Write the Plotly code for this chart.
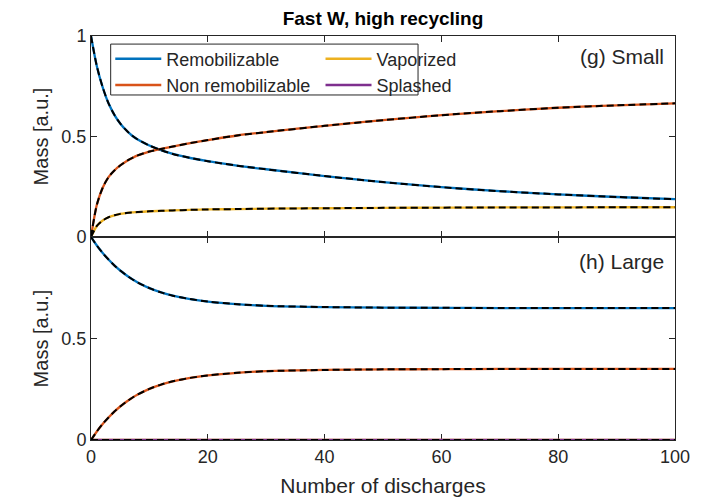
import plotly.graph_objects as go

# ---- data ----
discharges = [0, 1, 2, 3, 4, 5, 6, 7, 8, 10, 12, 14, 17, 20, 25, 30, 40, 50, 60, 70, 80, 90, 100]

small_remob = [1.0, 0.85, 0.745, 0.665, 0.608, 0.565, 0.532, 0.505, 0.485, 0.455, 0.432, 0.413,
               0.393, 0.377, 0.355, 0.337, 0.303, 0.273, 0.248, 0.228, 0.212, 0.199, 0.188]
small_nonremob = [0.0, 0.16, 0.245, 0.298, 0.331, 0.356, 0.376, 0.392, 0.406, 0.425, 0.438, 0.450,
                  0.467, 0.482, 0.505, 0.522, 0.553, 0.581, 0.606, 0.626, 0.643, 0.655, 0.665]
small_vapor = [0.0, 0.055, 0.082, 0.098, 0.108, 0.115, 0.119, 0.122, 0.124, 0.128, 0.130, 0.132,
               0.135, 0.137, 0.139, 0.141, 0.143, 0.145, 0.146, 0.147, 0.147, 0.148, 0.148]

large_remob = [1.0, 0.958, 0.921, 0.889, 0.860, 0.835, 0.813, 0.793, 0.776, 0.748, 0.727, 0.711,
               0.694, 0.682, 0.669, 0.661, 0.655, 0.652, 0.651, 0.650, 0.650, 0.650, 0.650]
large_nonremob = [0.0, 0.042, 0.079, 0.111, 0.140, 0.165, 0.187, 0.207, 0.224, 0.252, 0.273, 0.289,
                  0.306, 0.318, 0.331, 0.339, 0.345, 0.348, 0.349, 0.350, 0.350, 0.350, 0.350]
large_vapor = [0.0] * 23
large_splash = [0.0] * 23

names = ["Remobilizable", "Non remobilizable", "Vaporized", "Splashed"]
colors = ["#0072BD", "#D95319", "#EDB120", "#7E2F8E"]

x_ticks = [0, 20, 40, 60, 80, 100]

fig = go.Figure()

small = [(0, small_remob), (1, small_nonremob), (2, small_vapor)]
large = [(0, large_remob), (1, large_nonremob), (2, large_vapor), (3, large_splash)]

for series, xa, ya in [(small, "x", "y"), (large, "x2", "y2")]:
    for i, vals in series:
        fig.add_trace(go.Scatter(
            x=discharges, y=vals, mode="lines", name=names[i],
            line=dict(color=colors[i], width=2.3, shape="spline", smoothing=0.8),
            xaxis=xa, yaxis=ya, showlegend=False))
    for i, vals in series:
        fig.add_trace(go.Scatter(
            x=discharges, y=vals, mode="lines",
            line=dict(color="black", width=2, dash="7px,4px", shape="spline", smoothing=0.8),
            xaxis=xa, yaxis=ya, showlegend=False, hoverinfo="skip"))

# legend entries: two columns
for i, leg in [(0, "legend"), (1, "legend"), (2, "legend2"), (3, "legend2")]:
    fig.add_trace(go.Scatter(x=[None], y=[None], mode="lines", name=names[i],
                             line=dict(color=colors[i], width=2.5), showlegend=True,
                             legend=leg))

axis_common = dict(showline=True, linecolor="#262626", linewidth=1, mirror="ticks",
                   ticks="inside", ticklen=6, tickcolor="#262626", showgrid=False,
                   zeroline=False, tickfont=dict(size=18, color="#262626"))

FONT = "Liberation Sans, Arial, sans-serif"

legend_common = dict(xref="paper", yref="paper", xanchor="left", yanchor="top",
                     orientation="v", bgcolor="rgba(0,0,0,0)", borderwidth=0,
                     font=dict(size=18, color="#262626"), itemwidth=46, tracegroupgap=0)

fig.update_layout(
    width=712, height=500,
    margin=dict(l=83, r=45, t=28, b=68),
    plot_bgcolor="white", paper_bgcolor="white",
    font=dict(family=FONT, color="#262626"),
    title=dict(text="<b>Fast W, high recycling</b>", x=0.5, xref="paper", xanchor="center",
               y=0.979, yanchor="middle", font=dict(size=19, color="black")),
    xaxis=dict(axis_common, range=[0, 100], tickvals=x_ticks, showticklabels=False,
               anchor="y", domain=[0, 1]),
    yaxis=dict(axis_common, range=[0, 1], tickvals=[0, 0.5, 1], ticktext=["0", "0.5", "1"],
               domain=[0.5025, 1], anchor="x",
               title=dict(text="Mass [a.u.]", font=dict(size=20), standoff=7)),
    xaxis2=dict(axis_common, range=[0, 100], tickvals=x_ticks, anchor="y2", domain=[0, 1],
                layer="below traces",
                title=dict(text="Number of discharges", font=dict(size=21), standoff=12)),
    yaxis2=dict(axis_common, range=[0, 1], tickvals=[0, 0.5], ticktext=["0", "0.5"],
                domain=[0, 0.5025], anchor="x2",
                title=dict(text="Mass [a.u.]", font=dict(size=20), standoff=7)),
    legend=dict(legend_common, x=0.033, y=0.989),
    legend2=dict(legend_common, x=0.393, y=0.989),
    showlegend=True,
    shapes=[dict(type="rect", xref="paper", yref="paper", x0=0.0337, x1=0.560,
                 y0=0.854, y1=0.980, line=dict(color="#262626", width=1),
                 fillcolor="white", layer="above")],
    annotations=[
        dict(text="(g) Small", x=0.985, y=0.950, xref="paper", yref="paper",
             xanchor="right", yanchor="middle", showarrow=False,
             font=dict(size=21, color="#262626")),
        dict(text="(h) Large", x=0.985, y=0.443, xref="paper", yref="paper",
             xanchor="right", yanchor="middle", showarrow=False,
             font=dict(size=21, color="#262626")),
    ],
)

fig.write_html("out.html")
